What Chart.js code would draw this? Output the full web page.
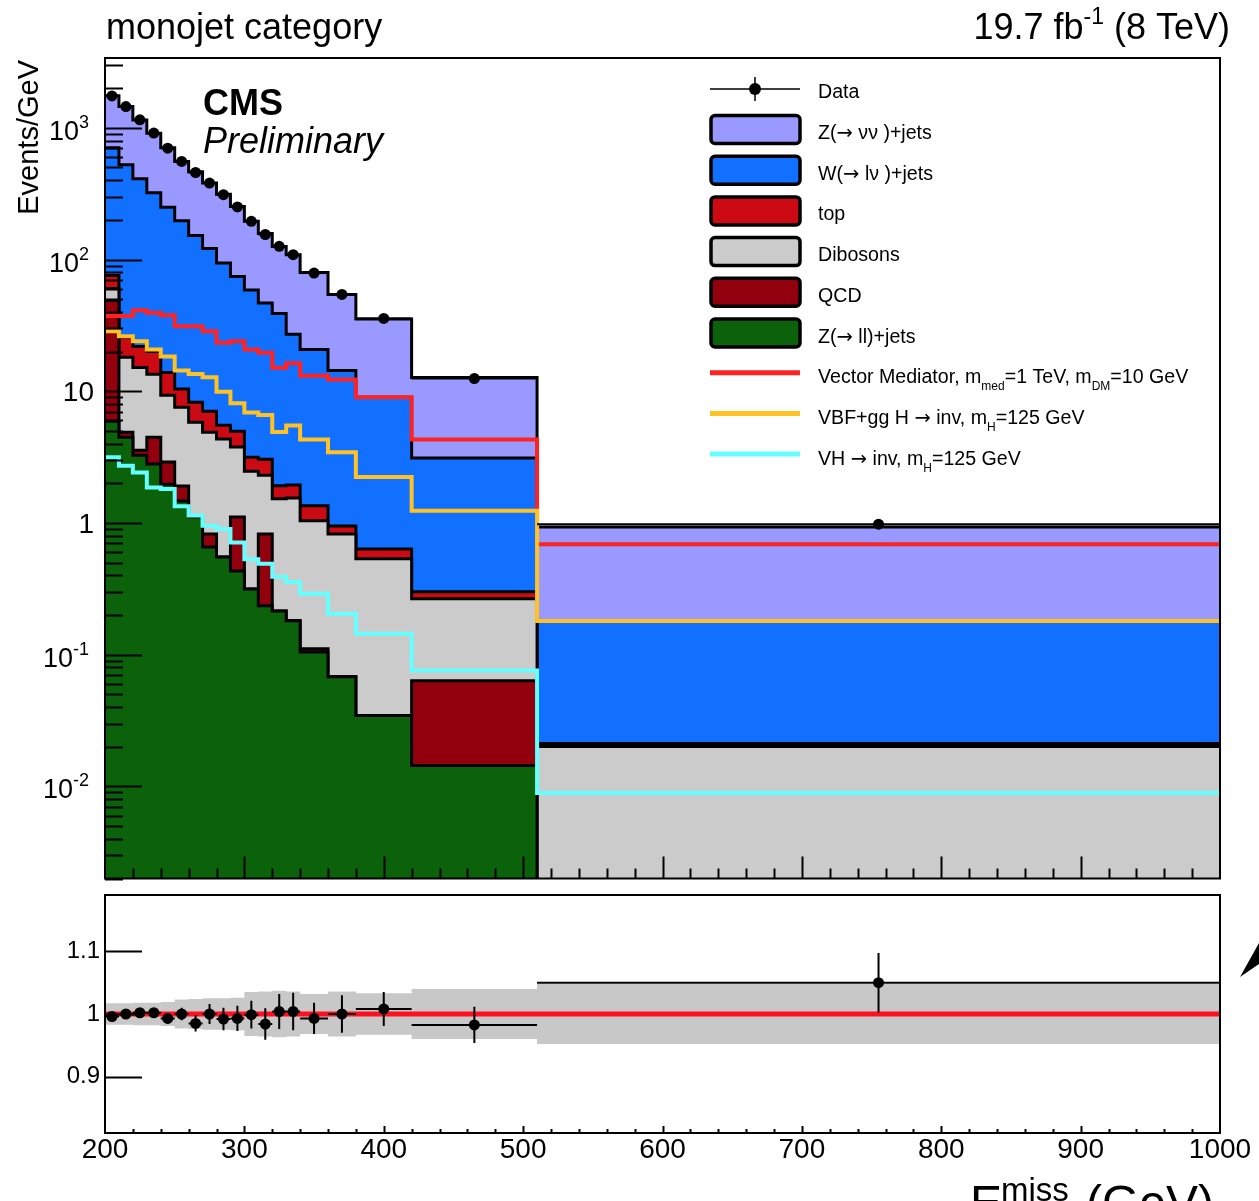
<!DOCTYPE html>
<html>
<head>
<meta charset="utf-8">
<title>monojet category</title>
<script src="https://cdn.jsdelivr.net/npm/chart.js"></script>
<style>
  html, body { margin: 0; padding: 0; background: #fff; }
  #wrap { position: relative; width: 1259px; height: 1201px; overflow: hidden; }
  #mainChart { position: absolute; left: 0; top: 0; }
  #ratioChart { position: absolute; left: 0; top: 884px; }
</style>
</head>
<body>
<div id="wrap">
  <canvas id="mainChart" width="1259" height="884"></canvas>
  <canvas id="ratioChart" width="1259" height="317"></canvas>
</div>
<script>
// values (events / GeV per MET bin)
const binEdges = [200, 210, 220, 230, 240, 250, 260, 270, 280, 290, 300, 310, 320, 330, 340, 360, 380, 420, 510, 1000];
const binCenters = [205, 215, 225, 235, 245, 255, 265, 275, 285, 295, 305, 315, 325, 335, 350, 370, 400, 465, 755];

const dataValues = [1748, 1450, 1150, 912, 701, 556, 458, 381, 311, 251, 195, 155, 126, 109, 79, 54.4, 35.7, 12.5, 0.98];

// backgrounds, bottom of the stack first
const zllValues = [5.93, 4.48, 3.27, 2.80, 1.97, 1.47, 1.11, 0.658, 0.553, 0.433, 0.316, 0.235, 0.215, 0.181, 0.105, 0.068, 0.0345, 0.0144, 0];
const qcdValues = [43.0, 0.41, 0.30, 1.68, 0.93, 0.44, 0, 0.168, 0, 0.677, 0, 0.591, 0, 0, 0.006, 0, 0, 0.049, 0];
const dibosonValues = [11.4, 13.2, 11.6, 9.0, 6.43, 5.65, 4.71, 4.06, 3.78, 2.66, 2.16, 1.48, 1.31, 1.37, 0.929, 0.758, 0.50, 0.203, 0.0201];
const topValues = [15.3, 7.6, 6.7, 6.6, 4.57, 2.84, 2.44, 2.17, 1.20, 1.21, 0.68, 0.74, 0.39, 0.39, 0.31, 0.123, 0.101, 0.034, 0.0011];
const wjetsValues = [630, 499, 389, 302, 236, 187, 143.7, 114.1, 88.6, 69.3, 55.5, 43.75, 37.1, 25.1, 19.45, 13.45, 8.38, 2.81, 0.16];
const znunuValues = [1049, 925, 737, 588, 456, 358.5, 313, 259.8, 219.4, 178.7, 136.3, 110.7, 86.5, 81.6, 58.8, 40.0, 26.4, 9.59, 0.752];

const vectorMedValues = [37.2, 37.2, 41.3, 39.4, 37.7, 31.2, 31.2, 28.6, 23.4, 24.0, 20.8, 19.6, 15.1, 16.3, 13.1, 12.3, 9.0, 4.3, 0.69];
const vbfValues = [28.6, 26.2, 24.0, 20.8, 18.4, 14.4, 13.5, 12.8, 9.9, 8.1, 6.9, 6.6, 4.9, 5.5, 4.3, 3.45, 2.23, 1.24, 0.18];
const vhValues = [3.15, 2.72, 2.42, 1.86, 1.81, 1.34, 1.14, 0.955, 0.90, 0.71, 0.53, 0.49, 0.39, 0.356, 0.29, 0.205, 0.144, 0.076, 0.0089];

// data / MC panel
const ratioValues = [0.996, 1.000, 1.002, 1.002, 0.993, 1.000, 0.985, 1.000, 0.992, 0.993, 0.999, 0.984, 1.004, 1.004, 0.993, 1.000, 1.008, 0.9825, 1.05];
const ratioErrors = [0.003, 0.004, 0.004, 0.005, 0.008, 0.010, 0.013, 0.016, 0.018, 0.020, 0.022, 0.025, 0.028, 0.030, 0.025, 0.030, 0.027, 0.029, 0.0475];
const bandHalfWidth = [0.017, 0.017, 0.018, 0.018, 0.019, 0.023, 0.024, 0.025, 0.025, 0.026, 0.035, 0.036, 0.037, 0.036, 0.032, 0.036, 0.033, 0.040, 0.048];

// tick labels
const yTickValues = [0.01, 0.1, 1, 10, 100, 1000];
const yTickBase = ['10', '10', '1', '10', '10', '10'];
const yTickExp = ['-2', '-1', '', '', '2', '3'];
const ratioTickValues = [0.9, 1, 1.1];

const Y_MIN = 0.002, Y_MAX = 3390;

const FONT = "'Liberation Sans', Arial, Helvetica, sans-serif";
const SYMFONT = "'DejaVu Sans', " + FONT;
Chart.defaults.font.family = FONT;
Chart.defaults.color = '#000';

const colZnn = '#9999ff';
const colW = '#1170ff';
const colTop = '#cc0a14';
const colDib = '#cbcbcb';
const colQcd = '#93000d';
const colZll = '#0b620b';
const colVM = '#ff2222';
const colVBF = '#ffc225';
const colVH = '#66ffff';

// one point per lower bin edge plus the closing edge, drawn as steps;
// anything under the axis floor sits on the floor (log axis can't take 0)
function histPoints(values) {
  const pts = values.map((v, i) => ({ x: binEdges[i], y: Math.max(v, Y_MIN / 2) }));
  pts.push({ x: binEdges[binEdges.length - 1], y: pts[pts.length - 1].y });
  return pts;
}

// running sums of the background stack
const stackInputs = [zllValues, qcdValues, dibosonValues, topValues, wjetsValues, znunuValues];
const stackTops = [];
let running = zllValues.map(() => 0);
stackInputs.forEach(vals => {
  running = running.map((s, i) => s + vals[i]);
  stackTops.push(running);
});

function layer(label, k, color, fill, order) {
  return {
    label: label, data: histPoints(stackTops[k]), stepped: 'before',
    fill: fill, backgroundColor: color, borderColor: '#000', borderWidth: 3,
    pointRadius: 0, order: order
  };
}

function sigLine(label, values, color, order) {
  return {
    label: label, data: histPoints(values), stepped: 'before',
    fill: false, borderColor: color, borderWidth: 4, pointRadius: 0, order: order
  };
}

// text made of pieces: [text, ''|'sub'|'sup'|'sym']
function partFont(p, size) {
  if (p[1] === 'sym') return size + 'px ' + SYMFONT;
  return (p[1] ? Math.round(size * 0.63) : size) + 'px ' + FONT;
}
function richWidth(ctx, parts, size) {
  let w = 0;
  parts.forEach(p => {
    ctx.font = partFont(p, size);
    w += ctx.measureText(p[0]).width;
  });
  return w;
}
function drawRich(ctx, x, y, parts, size, subDy, supDy) {
  let cx = x;
  ctx.textAlign = 'left';
  ctx.textBaseline = 'alphabetic';
  parts.forEach(p => {
    ctx.font = partFont(p, size);
    const dy = p[1] === 'sub' ? subDy : p[1] === 'sup' ? -supDy : 0;
    ctx.fillText(p[0], cx, y + dy);
    cx += ctx.measureText(p[0]).width;
  });
}

const legendEntries = [
  { type: 'data', parts: [['Data', '']] },
  { type: 'box', color: colZnn, parts: [['Z(', ''], ['\u2192', 'sym'], [' \u03bd\u03bd )+jets', '']] },
  { type: 'box', color: colW, parts: [['W(', ''], ['\u2192', 'sym'], [' l\u03bd )+jets', '']] },
  { type: 'box', color: colTop, parts: [['top', '']] },
  { type: 'box', color: colDib, parts: [['Dibosons', '']] },
  { type: 'box', color: colQcd, parts: [['QCD', '']] },
  { type: 'box', color: colZll, parts: [['Z(', ''], ['\u2192', 'sym'], [' ll)+jets', '']] },
  { type: 'line', color: colVM, parts: [['Vector Mediator, m', ''], ['med', 'sub'], ['=1 TeV, m', ''], ['DM', 'sub'], ['=10 GeV', '']] },
  { type: 'line', color: colVBF, parts: [['VBF+gg H ', ''], ['\u2192', 'sym'], [' inv, m', ''], ['H', 'sub'], ['=125 GeV', '']] },
  { type: 'line', color: colVH, parts: [['VH ', ''], ['\u2192', 'sym'], [' inv, m', ''], ['H', 'sub'], ['=125 GeV', '']] }
];

const mainDecor = {
  id: 'mainDecor',
  afterDatasetsDraw(chart) {
    const ctx = chart.ctx, a = chart.chartArea, xs = chart.scales.x, ys = chart.scales.y;
    ctx.save();
    ctx.strokeStyle = '#000';
    ctx.lineWidth = 2;
    // horizontal bars of the data points (bin widths)
    dataValues.forEach((v, i) => {
      const y = ys.getPixelForValue(v);
      ctx.beginPath();
      ctx.moveTo(xs.getPixelForValue(binEdges[i]), y);
      ctx.lineTo(xs.getPixelForValue(binEdges[i + 1]), y);
      ctx.stroke();
    });
    // ticks inside the frame
    for (let e = -3; e <= 3; e++) {
      for (let k = 1; k <= 9; k++) {
        const v = k * Math.pow(10, e);
        if (v < ys.min || v > ys.max) continue;
        const y = Math.round(ys.getPixelForValue(v)) + 0.5;
        ctx.beginPath();
        ctx.moveTo(a.left, y);
        ctx.lineTo(a.left + (k === 1 ? 37 : 18), y);
        ctx.stroke();
      }
    }
    for (let v = 220; v < 1000; v += 20) {
      const x = Math.round(xs.getPixelForValue(v)) + 0.5;
      ctx.beginPath();
      ctx.moveTo(x, a.bottom);
      ctx.lineTo(x, a.bottom - (v % 100 === 0 ? 22 : 10));
      ctx.stroke();
    }
    ctx.strokeRect(a.left, a.top, a.right - a.left, a.bottom - a.top);
    ctx.restore();
  },
  afterDraw(chart) {
    const ctx = chart.ctx, ys = chart.scales.y;
    ctx.save();
    ctx.fillStyle = '#000';

    // y tick labels 10^n
    yTickValues.forEach((v, i) => {
      const y = ys.getPixelForValue(v);
      ctx.textBaseline = 'alphabetic';
      if (yTickExp[i]) {
        ctx.font = '18px ' + FONT;
        const we = ctx.measureText(yTickExp[i]).width;
        ctx.font = '27px ' + FONT;
        const wb = ctx.measureText(yTickBase[i]).width;
        ctx.textAlign = 'left';
        ctx.fillText(yTickBase[i], 89 - we - wb, y + 12);
        ctx.font = '18px ' + FONT;
        ctx.fillText(yTickExp[i], 89 - we, y);
      } else {
        ctx.font = '28px ' + FONT;
        ctx.textAlign = 'right';
        ctx.fillText(yTickBase[i], 94, y + 10);
      }
    });

    // axis title
    ctx.save();
    ctx.translate(38, 60);
    ctx.rotate(-Math.PI / 2);
    ctx.font = '29px ' + FONT;
    ctx.textAlign = 'right';
    ctx.textBaseline = 'alphabetic';
    ctx.fillText('Events/GeV', 0, 0);
    ctx.restore();

    // headers
    ctx.font = '36px ' + FONT;
    ctx.textAlign = 'left';
    ctx.textBaseline = 'alphabetic';
    ctx.fillText('monojet category', 106, 39);
    const lumi = [['19.7 fb', ''], ['-1', 'sup'], [' (8 TeV)', '']];
    drawRich(ctx, 1230 - richWidth(ctx, lumi, 36), 39, lumi, 36, 0, 15);

    ctx.font = 'bold 36px ' + FONT;
    ctx.textAlign = 'left';
    ctx.fillText('CMS', 203, 115);
    ctx.font = 'italic 36px ' + FONT;
    ctx.fillText('Preliminary', 203, 153);

    // legend
    legendEntries.forEach((ent, i) => {
      const base = 98.3 + i * 40.7;
      if (ent.type === 'data') {
        const cy = base - 9.3;
        ctx.strokeStyle = '#000';
        ctx.lineWidth = 1.5;
        ctx.beginPath();
        ctx.moveTo(710, cy); ctx.lineTo(800, cy);
        ctx.moveTo(755, cy - 12); ctx.lineTo(755, cy + 12);
        ctx.stroke();
        ctx.beginPath();
        ctx.arc(755, cy, 6, 0, Math.PI * 2);
        ctx.fill();
      } else if (ent.type === 'box') {
        const cy = base - 9.5;
        ctx.beginPath();
        if (ctx.roundRect) ctx.roundRect(711, cy - 14, 89, 28, 4);
        else ctx.rect(711, cy - 14, 89, 28);
        ctx.fillStyle = ent.color;
        ctx.fill();
        ctx.strokeStyle = '#000';
        ctx.lineWidth = 3.5;
        ctx.stroke();
      } else {
        ctx.strokeStyle = ent.color;
        ctx.lineWidth = 5;
        ctx.beginPath();
        ctx.moveTo(710, base - 10.5);
        ctx.lineTo(800, base - 10.5);
        ctx.stroke();
      }
      ctx.fillStyle = '#000';
      drawRich(ctx, 818, base, ent.parts, 19.6, 7, 8);
    });
    ctx.restore();
  }
};

new Chart(document.getElementById('mainChart'), {
  type: 'line',
  data: {
    datasets: [
      layer('Z(\u2192 ll)+jets', 0, colZll, 'start', 10),
      layer('QCD', 1, colQcd, '-1', 11),
      layer('Dibosons', 2, colDib, '-1', 12),
      layer('top', 3, colTop, '-1', 13),
      layer('W(\u2192 l\u03bd)+jets', 4, colW, '-1', 14),
      layer('Z(\u2192 \u03bd\u03bd)+jets', 5, colZnn, '-1', 15),
      sigLine('Vector Mediator', vectorMedValues, colVM, 3),
      sigLine('VBF+gg H', vbfValues, colVBF, 2),
      sigLine('VH', vhValues, colVH, 1),
      {
        label: 'Data', order: 0, showLine: false,
        data: binCenters.map((x, i) => ({ x: x, y: dataValues[i] })),
        pointRadius: 5.5, pointBackgroundColor: '#000', pointBorderColor: '#000', pointBorderWidth: 0
      }
    ]
  },
  options: {
    responsive: false,
    animation: false,
    events: [],
    layout: { padding: { left: 105, right: 39, top: 58, bottom: 4 } },
    plugins: { legend: { display: false }, tooltip: { enabled: false } },
    scales: {
      x: { type: 'linear', min: 200, max: 1000, display: false },
      y: { type: 'logarithmic', min: Y_MIN, max: Y_MAX, display: false }
    }
  },
  plugins: [mainDecor]
});

const ratioDecor = {
  id: 'ratioDecor',
  afterDatasetsDraw(chart) {
    const ctx = chart.ctx, a = chart.chartArea, xs = chart.scales.x, ys = chart.scales.y;
    ctx.save();
    ctx.strokeStyle = '#000';
    ctx.lineWidth = 2;
    ratioValues.forEach((r, i) => {
      const x = xs.getPixelForValue(binCenters[i]);
      const y = ys.getPixelForValue(r);
      ctx.beginPath();
      ctx.moveTo(xs.getPixelForValue(binEdges[i]), y);
      ctx.lineTo(xs.getPixelForValue(binEdges[i + 1]), y);
      ctx.moveTo(x, ys.getPixelForValue(r - ratioErrors[i]));
      ctx.lineTo(x, ys.getPixelForValue(r + ratioErrors[i]));
      ctx.stroke();
    });
    ratioTickValues.forEach(v => {
      const y = Math.round(ys.getPixelForValue(v)) + 0.5;
      ctx.beginPath();
      ctx.moveTo(a.left, y);
      ctx.lineTo(a.left + 37, y);
      ctx.stroke();
    });
    for (let v = 220; v < 1000; v += 20) {
      const x = Math.round(xs.getPixelForValue(v)) + 0.5;
      ctx.beginPath();
      ctx.moveTo(x, a.bottom);
      ctx.lineTo(x, a.bottom - (v % 100 === 0 ? 7 : 4));
      ctx.stroke();
    }
    ctx.strokeRect(a.left, a.top, a.right - a.left, a.bottom - a.top);
    ctx.restore();
  },
  afterDraw(chart) {
    const ctx = chart.ctx;
    ctx.save();
    ctx.fillStyle = '#000';
    ctx.textBaseline = 'alphabetic';
    ctx.textAlign = 'left';
    // x axis title, mostly below the picture edge
    ctx.font = '48px ' + FONT;
    ctx.fillText('E', 970, 335);
    ctx.font = '33px ' + FONT;
    ctx.fillText('miss', 1001, 317);
    ctx.fillText('T', 1001, 350);
    ctx.font = '48px ' + FONT;
    ctx.fillText('(GeV)', 1086, 335);
    // arrow head at the right edge
    ctx.beginPath();
    ctx.moveTo(1240, 93);
    ctx.lineTo(1259, 59);
    ctx.lineTo(1259, 80);
    ctx.closePath();
    ctx.fill();
    ctx.restore();
  }
};

function noPad(s) {
  s.paddingTop = 0; s.paddingBottom = 0; s.paddingLeft = 0; s.paddingRight = 0;
}

new Chart(document.getElementById('ratioChart'), {
  type: 'line',
  data: {
    datasets: [
      {
        label: 'band low', data: histPoints(bandHalfWidth.map(b => 1 - b)), stepped: 'before',
        fill: false, borderWidth: 0, borderColor: 'rgba(0,0,0,0)', pointRadius: 0, order: 3
      },
      {
        label: 'band high', data: histPoints(bandHalfWidth.map(b => 1 + b)), stepped: 'before',
        fill: '-1', backgroundColor: '#c8c8c8', borderWidth: 0, borderColor: 'rgba(0,0,0,0)', pointRadius: 0, order: 2
      },
      {
        label: 'unity', data: [{ x: 200, y: 1 }, { x: 1000, y: 1 }],
        fill: false, borderColor: '#ff1020', borderWidth: 5, pointRadius: 0, order: 1
      },
      {
        label: 'Data/MC', showLine: false, order: 0,
        data: binCenters.map((x, i) => ({ x: x, y: ratioValues[i] })),
        pointRadius: 5.5, pointBackgroundColor: '#000', pointBorderColor: '#000', pointBorderWidth: 0
      }
    ]
  },
  options: {
    responsive: false,
    animation: false,
    events: [],
    layout: { padding: { left: 0, right: 39, top: 11, bottom: 0 } },
    plugins: { legend: { display: false }, tooltip: { enabled: false } },
    scales: {
      x: {
        type: 'linear', min: 200, max: 1000,
        grid: { display: false, drawTicks: false }, border: { display: false },
        ticks: { stepSize: 100, autoSkip: false, maxRotation: 0, padding: 0, color: '#000', font: { size: 28 }, callback: v => String(v) },
        afterFit(s) { s.height = 68; noPad(s); }
      },
      y: {
        type: 'linear', min: 0.81, max: 1.19,
        grid: { display: false, drawTicks: false }, border: { display: false },
        ticks: { padding: 5, color: '#000', font: { size: 24 }, callback: v => String(v) },
        afterBuildTicks(s) { s.ticks = ratioTickValues.map(v => ({ value: v })); },
        afterFit(s) { s.width = 105; noPad(s); }
      }
    }
  },
  plugins: [ratioDecor]
});
</script>
</body>
</html>
